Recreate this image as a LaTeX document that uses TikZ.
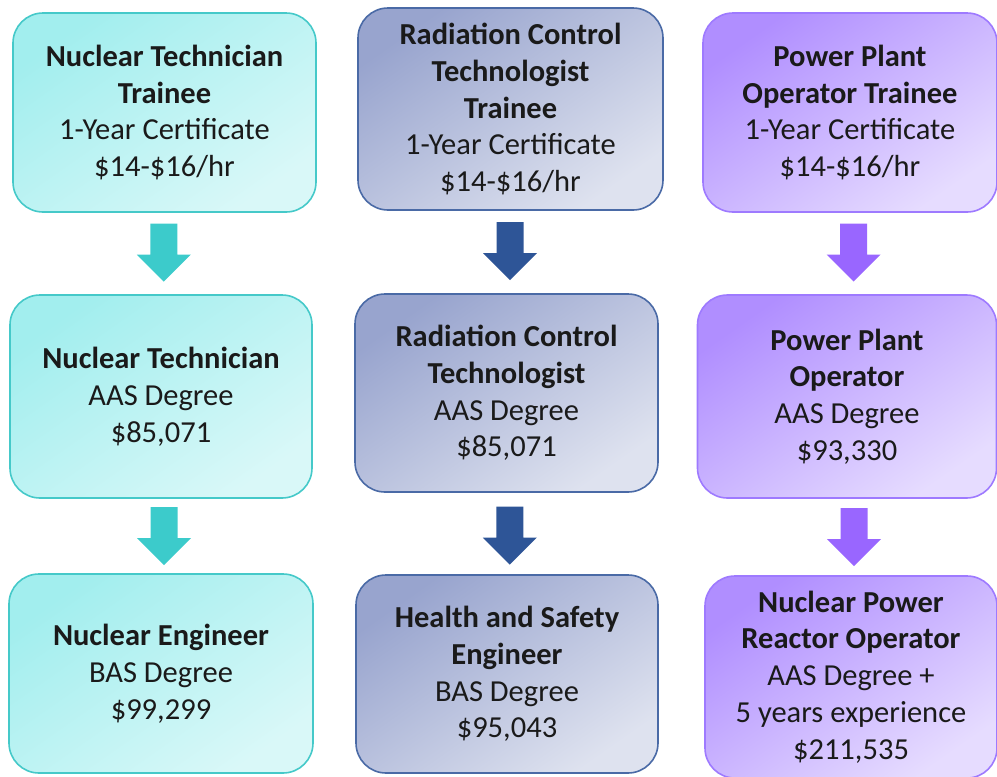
\documentclass[tikz,border=0pt]{standalone}
\usepackage{fontspec}
\setmainfont{Carlito}
\usetikzlibrary{calc}
\definecolor{tealB}{HTML}{45C9C9}
\definecolor{tealD}{HTML}{A2EEEE}
\definecolor{tealL}{HTML}{D9F8F8}
\definecolor{tealA}{HTML}{3CCBCB}
\definecolor{blueB}{HTML}{4A6AA6}
\definecolor{blueD}{HTML}{98A4CE}
\definecolor{blueL}{HTML}{DEE2EF}
\definecolor{blueA}{HTML}{2E5597}
\definecolor{purB}{HTML}{9E7AFF}
\definecolor{purD}{HTML}{B08EFF}
\definecolor{purL}{HTML}{E6DCFF}
\definecolor{purA}{HTML}{9966FF}
\definecolor{txt}{HTML}{1A1A1A}
\tikzset{
  card/.style={rounded corners=30pt, line width=1.6pt, align=center,
    inner sep=0pt, text=txt,
    font=\fontsize{30.5}{36.8}\selectfont},
  tealcard/.style={card, draw=tealB, top color=tealD, bottom color=tealL, shading angle=35},
  bluecard/.style={card, draw=blueB, top color=blueD, bottom color=blueL, shading angle=35},
  purcard/.style={card, draw=purB, top color=purD, bottom color=purL, shading angle=35},
}
\newcommand\downarrowat[2]{%
  \fill[#2] ($(#1)+(-13.5,-29)$) -- ($(#1)+(13.5,-29)$) -- ($(#1)+(13.5,2)$)
    -- ($(#1)+(27,2)$) -- ($(#1)+(0,29)$) -- ($(#1)+(-27,2)$)
    -- ($(#1)+(-13.5,2)$) -- cycle;}
\begin{document}
\begin{tikzpicture}[x=1pt,y=-1pt]
\useasboundingbox (0,0) rectangle (997,777);
% column 1
\node[tealcard, minimum width=303pt, minimum height=199pt] (a1) at (164.5,112.5)
  {\textbf{Nuclear Technician}\\\textbf{Trainee}\\1-Year Certificate\\\$14-\$16/hr};
\node[tealcard, minimum width=302pt, minimum height=203pt] (a2) at (161,396.5)
  {\textbf{Nuclear Technician}\\AAS Degree\\\$85,071};
\node[tealcard, minimum width=304pt, minimum height=199pt] (a3) at (161,673.5)
  {\textbf{Nuclear Engineer}\\BAS Degree\\\$99,299};
% column 2
\node[bluecard, minimum width=305pt, minimum height=202pt] (b1) at (510.5,109)
  {\textbf{Radiation Control}\\\textbf{Technologist}\\\textbf{Trainee}\\1-Year Certificate\\\$14-\$16/hr};
\node[bluecard, minimum width=303pt, minimum height=198pt] (b2) at (506.5,393)
  {\textbf{Radiation Control}\\\textbf{Technologist}\\AAS Degree\\\$85,071};
\node[bluecard, minimum width=302pt, minimum height=198pt] (b3) at (507,674)
  {\textbf{Health and Safety}\\\textbf{Engineer}\\BAS Degree\\\$95,043};
% column 3
\node[purcard, minimum width=294pt, minimum height=199pt] (c1) at (850,112.5)
  {\textbf{Power Plant}\\\textbf{Operator Trainee}\\1-Year Certificate\\\$14-\$16/hr};
\node[purcard, minimum width=299pt, minimum height=203pt] (c2) at (847,396.5)
  {\textbf{Power Plant}\\\textbf{Operator}\\AAS Degree\\\$93,330};
\node[purcard, minimum width=292pt, minimum height=202pt] (c3) at (851,677)
  {\textbf{Nuclear Power}\\\textbf{Reactor Operator}\\AAS Degree +\\5 years experience\\\$211,535};
% arrows
\coordinate (m1) at ($(a1.south)!0.5!(a2.north)+(1,-1)$);
\coordinate (m2) at ($(a2.south)!0.5!(a3.north)+(3,0)$);
\coordinate (m3) at ($(b1.south)!0.5!(b2.north)+(1.5,-1)$);
\coordinate (m4) at ($(b2.south)!0.5!(b3.north)+(3,2)$);
\coordinate (m5) at ($(c1.south)!0.5!(c2.north)+(5,-1)$);
\coordinate (m6) at ($(c2.south)!0.5!(c3.north)+(5,0)$);
\downarrowat{m1}{tealA}
\downarrowat{m2}{tealA}
\downarrowat{m3}{blueA}
\downarrowat{m4}{blueA}
\downarrowat{m5}{purA}
\downarrowat{m6}{purA}
\end{tikzpicture}
\end{document}
